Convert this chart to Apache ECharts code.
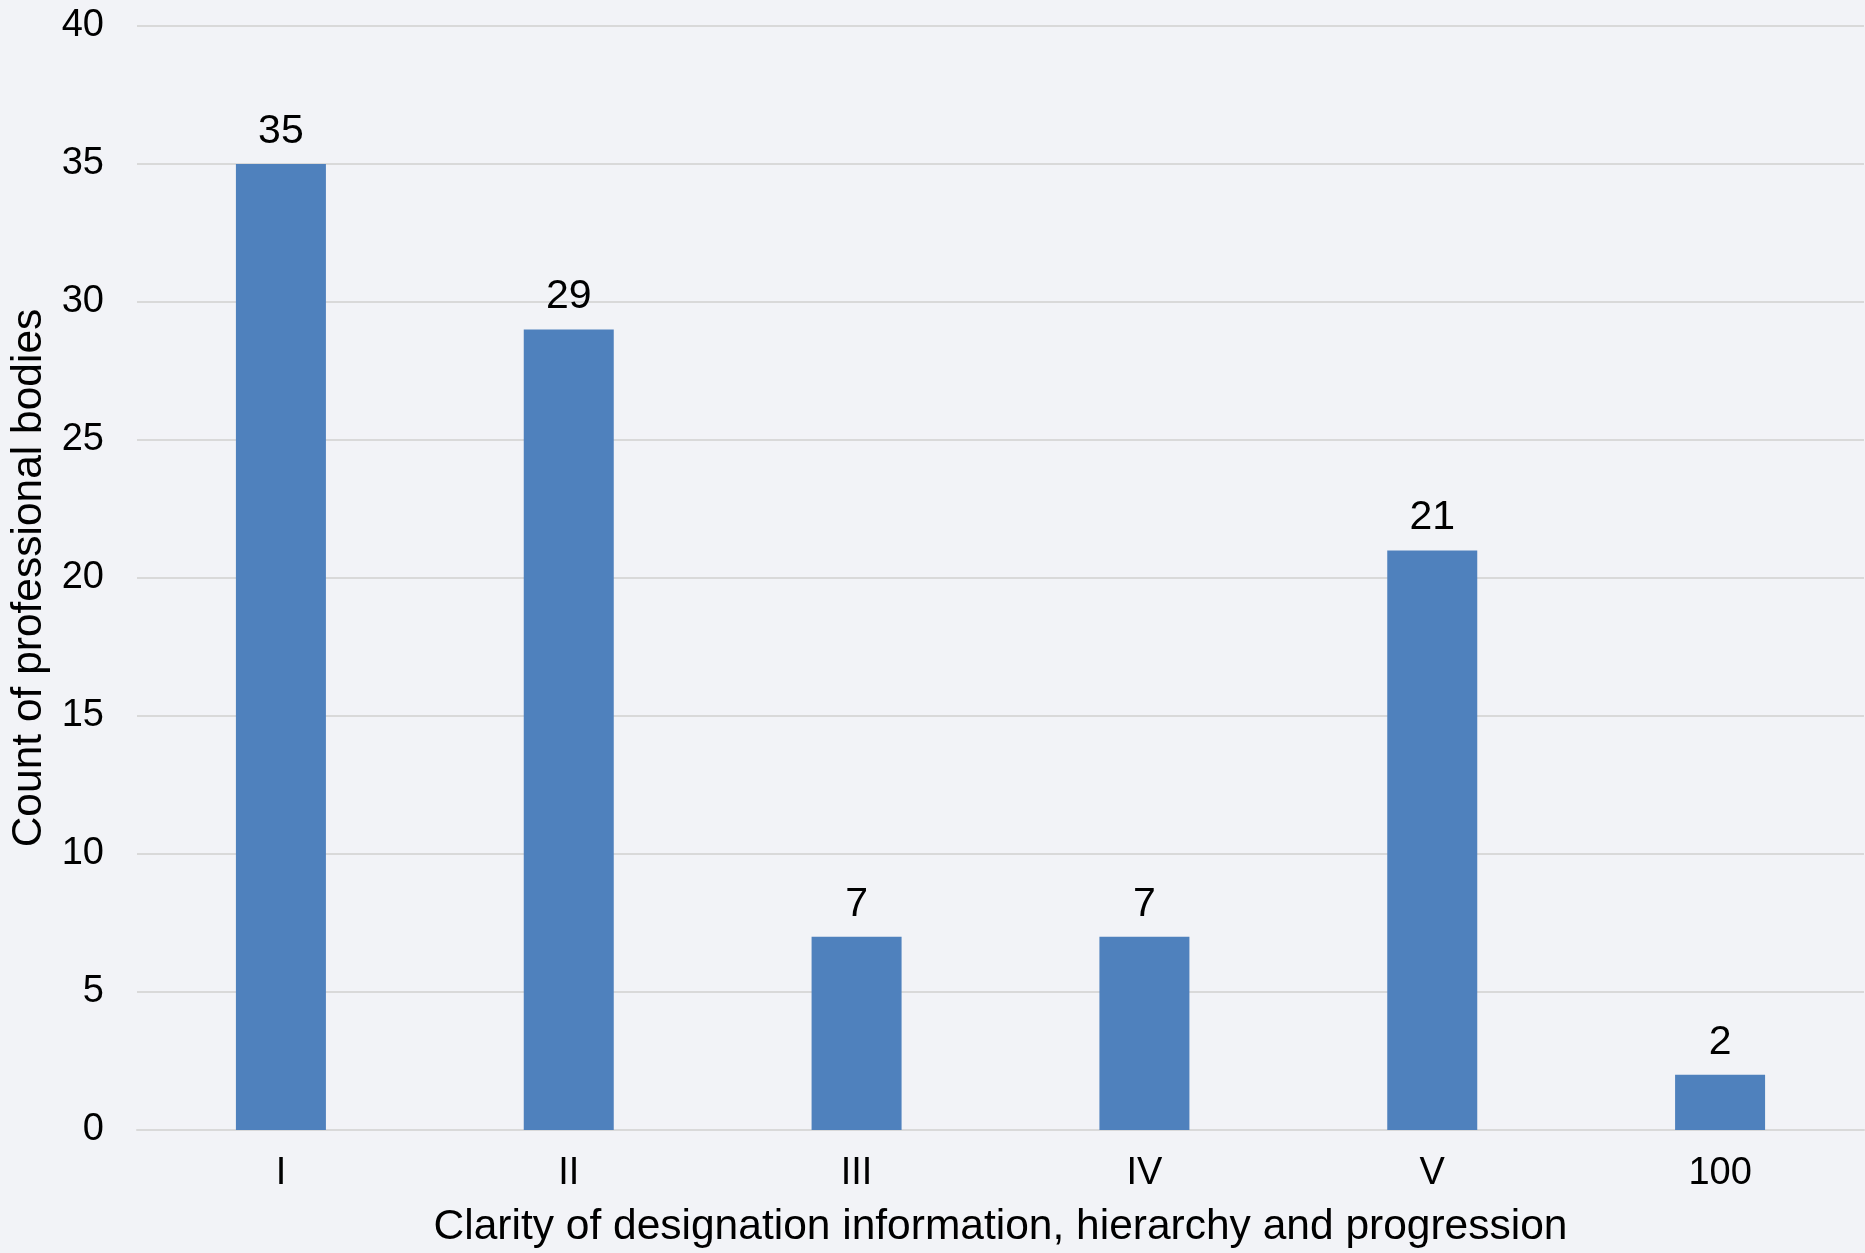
<!DOCTYPE html>
<html>
<head>
<meta charset="utf-8">
<script src="https://cdn.jsdelivr.net/npm/echarts@6/dist/echarts.min.js"></script>
<style>
  html, body { margin: 0; padding: 0; background: #F2F3F7; }
  #chart { width: 1865px; height: 1253px; }
</style>
</head>
<body>
<div id="chart"></div>
<script>
// Clarity levels and how many professional bodies fall in each
const categories = ['I', 'II', 'III', 'IV', 'V', '100'];
const counts = [35, 29, 7, 7, 21, 2];
const yTicks = { min: 0, max: 40, interval: 5 };

const FONT = '"Liberation Sans", Arial, sans-serif';
const chart = echarts.init(document.getElementById('chart'));

chart.setOption({
  backgroundColor: '#F2F3F7',
  animation: false,
  textStyle: { fontFamily: FONT },
  grid: { left: 137, right: 1, top: 26, bottom: 123, outerBoundsMode: 'none', containLabel: false },
  xAxis: {
    type: 'category',
    data: categories,
    name: 'Clarity of designation information, hierarchy and progression',
    nameLocation: 'middle',
    nameGap: 76,
    nameTextStyle: { fontSize: 42.5, color: '#000', fontFamily: FONT },
    axisLine: { lineStyle: { color: '#D9D9D9', width: 2 } },
    axisTick: { show: false },
    axisLabel: { fontSize: 38, color: '#000', margin: 25, fontFamily: FONT }
  },
  yAxis: {
    type: 'value',
    min: yTicks.min,
    max: yTicks.max,
    interval: yTicks.interval,
    name: 'Count of professional bodies',
    nameLocation: 'middle',
    nameGap: 76,
    nameTextStyle: { fontSize: 42.5, color: '#000', fontFamily: FONT },
    axisLine: { show: false },
    axisTick: { show: false },
    axisLabel: { fontSize: 38, color: '#000', margin: 33, fontFamily: FONT },
    splitLine: { lineStyle: { color: '#D9D9D9', width: 2 } }
  },
  series: [{
    type: 'bar',
    data: counts,
    barWidth: 90,
    itemStyle: { color: '#4F81BD' },
    label: {
      show: true,
      position: 'top',
      distance: 12,
      fontSize: 41,
      color: '#000',
      fontFamily: FONT
    }
  }]
});
</script>
</body>
</html>
